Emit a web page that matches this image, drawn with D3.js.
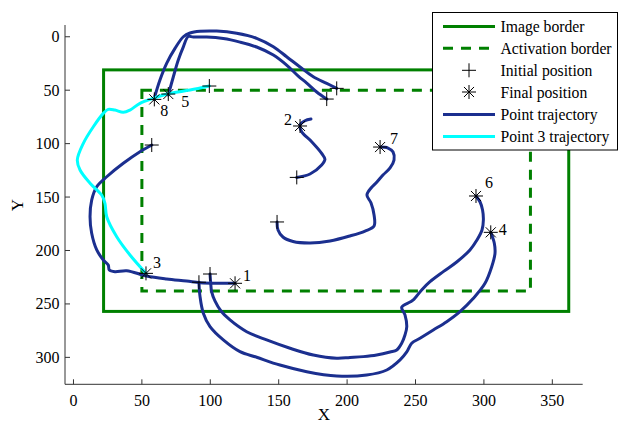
<!DOCTYPE html>
<html><head><meta charset="utf-8">
<script src="https://cdn.jsdelivr.net/npm/d3@7"></script>
<style>html,body{margin:0;padding:0;background:#fff;}text{font-family:"Liberation Serif","Times New Roman","DejaVu Serif",serif;}</style>
</head><body><svg id="c" width="618" height="424"></svg>
<script>
// ---------- data ----------
const xTicks = [0, 50, 100, 150, 200, 250, 300, 350];
const yTicks = [0, 50, 100, 150, 200, 250, 300];
const xDomain = [-6.2, 372.2];
const yDomain = [-11, 325.2];
const imageBorderX = [22, 362];
const imageBorderY = [31, 257];
const activationBorderX = [50, 334];
const activationBorderY = [50, 238];

const traj1 = [[57.2,101.3],[48.6,107.6],[36.4,118.4],[24.3,131.0],[17.0,140.3],[13.3,152.8],[12.1,168.4],[13.3,183.9],[17.0,199.5],[21.8,208.9],[25.4,213.6],[26.2,218.2],[30.3,219.8],[38.9,218.9],[53.5,223.9],[68.1,226.7],[82.7,228.6],[92.5,230.1],[104.7,230.7],[118.1,230.7]];
const traj2 = [[163.2,131.6],[172.9,128.4],[181.4,120.0],[183.8,114.7],[181.4,109.1],[174.1,98.2],[166.8,88.9],[165.6,82.6],[169.2,78.6],[173.6,77.0]];
const traj3 = [[99.3,46.1],[85.2,49.9],[70.5,52.9],[58.3,57.6],[48.6,62.3],[41.3,68.6],[36.4,70.7],[30.3,68.6],[25.4,67.9],[21.8,71.7],[14.5,84.2],[7.2,99.7],[2.8,115.3],[4.8,124.7],[12.1,137.1],[20.6,148.1],[23.0,155.8],[24.3,168.4],[31.6,187.1],[41.3,204.2],[53.0,221.3]];
const traj4 = [[91.7,229.7],[92.5,243.2],[94.9,258.7],[99.8,271.3],[109.5,283.7],[121.7,294.7],[133.9,299.9],[150.9,307.2],[170.5,313.4],[192.4,317.4],[214.3,316.5],[229.0,311.8],[238.7,302.4],[243.6,294.9],[247.2,286.8],[253.3,282.1],[263.0,274.4],[272.8,266.6],[282.5,257.2],[292.3,244.7],[300.8,230.7],[305.7,215.2],[308.1,202.6],[307.6,193.3],[305.0,183.0]];
const traj5 = [[185.1,58.3],[177.8,51.7],[170.5,43.3],[164.3,36.8],[155.8,26.5],[146.1,17.1],[133.9,9.6],[121.7,5.0],[109.5,1.7],[97.4,0.3],[87.6,0.3],[83.9,-0.2],[80.3,9.4],[76.6,21.8],[73.0,37.4],[69.3,54.5]];
const traj6 = [[99.8,222.0],[100.3,230.4],[101.0,238.8],[103.4,247.2],[107.8,256.6],[114.4,265.0],[126.6,276.0],[141.2,283.7],[158.3,291.5],[175.3,297.8],[192.4,300.8],[202.1,300.1],[211.8,299.3],[221.6,297.8],[231.4,295.0],[236.3,293.1],[239.9,286.8],[242.3,279.1],[243.6,271.3],[242.3,260.3],[239.9,253.1],[246.0,248.2],[248.4,246.3],[254.5,236.9],[260.6,229.2],[270.3,219.8],[280.1,210.8],[289.8,199.5],[294.9,190.2],[298.6,180.8],[299.6,171.5],[299.0,162.1],[297.2,154.6],[294.2,149.0]];
const traj7 = [[148.8,173.3],[149.5,180.8],[153.1,187.4],[160.5,191.6],[172.9,193.0],[187.5,191.1],[202.1,186.4],[213.1,181.8],[219.7,177.1],[219.7,166.8],[217.5,155.6],[214.5,148.1],[217.5,141.5],[221.1,136.9],[226.2,129.4],[231.4,122.8],[234.3,115.3],[233.6,107.9],[229.9,104.1],[224.1,103.2]];
const traj8 = [[192.4,48.3],[185.1,43.6],[175.3,37.4],[165.6,28.3],[155.8,18.7],[146.1,9.4],[133.9,1.5],[119.3,-3.2],[104.7,-5.3],[92.5,-5.1],[85.2,-3.5],[80.3,0],[74.2,10.9],[68.1,24.9],[63.2,40.5],[58.8,58.6]];

const pointIds = [1, 2, 3, 4, 5, 6, 7, 8];
const initialX = [57.2, 163.2, 99.3, 91.7, 185.1, 99.8, 148.8, 192.4];
const initialY = [101.3, 131.6, 46.1, 229.7, 58.3, 222.0, 173.3, 48.3];
const finalX = [118.1, 165.6, 53.0, 305.0, 69.3, 294.2, 224.1, 59.1];
const finalY = [230.7, 83.5, 221.4, 183.0, 53.6, 149.0, 103.2, 58.6];
const legendLabels = ["Image border", "Activation border", "Initial position", "Final position", "Point trajectory", "Point 3 trajectory"];

// ---------- layout / style ----------
const FONT = "Liberation Serif, Times New Roman, DejaVu Serif, serif";
const labelOffsets = [[8,-2],[-16,-1],[7,-5],[8,3],[13,13],[9,-8],[10,-3],[6,17]];
const navy = "#1b2f8f", green = "#008000", cyan = "#00ffff";

const svg = d3.select("#c");
const x = d3.scaleLinear().domain(xDomain).range([65, 582.7]);
const y = d3.scaleLinear().domain(yDomain).range([25, 384.3]);

// borders
svg.append("rect").attr("x", x(imageBorderX[0])).attr("y", y(imageBorderY[0]))
  .attr("width", x(imageBorderX[1]) - x(imageBorderX[0])).attr("height", y(imageBorderY[1]) - y(imageBorderY[0]))
  .attr("fill", "none").attr("stroke", green).attr("stroke-width", 3);
svg.append("rect").attr("x", x(activationBorderX[0])).attr("y", y(activationBorderY[0]))
  .attr("width", x(activationBorderX[1]) - x(activationBorderX[0])).attr("height", y(activationBorderY[1]) - y(activationBorderY[0]))
  .attr("fill", "none").attr("stroke", green).attr("stroke-width", 3).attr("stroke-dasharray", "10,8");

const line = d3.line().x(d => x(d[0])).y(d => y(d[1])).curve(d3.curveCatmullRom.alpha(0.5));
const trajs = [traj1, traj2, traj4, traj5, traj6, traj7, traj8];
svg.selectAll("path.traj").data(trajs).join("path").attr("class", "traj")
  .attr("d", line).attr("fill", "none").attr("stroke", navy).attr("stroke-width", 3)
  .attr("stroke-linejoin", "round").attr("stroke-linecap", "round");
svg.append("path").attr("d", line(traj3)).attr("fill", "none").attr("stroke", cyan)
  .attr("stroke-width", 3).attr("stroke-linejoin", "round").attr("stroke-linecap", "round");

// markers
function plus(g, cx, cy, r) {
  g.append("path").attr("d", `M${cx-r},${cy}H${cx+r}M${cx},${cy-r}V${cy+r}`)
    .attr("stroke", "#000").attr("stroke-width", 1).attr("fill", "none");
}
function star(g, cx, cy, r) {
  const d = r * 0.72;
  g.append("path").attr("d", `M${cx-r},${cy}H${cx+r}M${cx},${cy-r}V${cy+r}M${cx-d},${cy-d}L${cx+d},${cy+d}M${cx-d},${cy+d}L${cx+d},${cy-d}`)
    .attr("stroke", "#000").attr("stroke-width", 1).attr("fill", "none");
}
const mk = svg.append("g");
pointIds.forEach((id, i) => {
  plus(mk, x(initialX[i]), y(initialY[i]), 7);
  star(mk, x(finalX[i]), y(finalY[i]), 7);
  mk.append("text").attr("x", x(finalX[i]) + labelOffsets[i][0]).attr("y", y(finalY[i]) + labelOffsets[i][1])
    .attr("font-family", FONT).attr("font-size", 16).attr("fill", "#000").text(id);
});

// axes
const ax = svg.append("g");
ax.append("line").attr("x1", 65).attr("x2", 582.7).attr("y1", 384.3).attr("y2", 384.3).attr("stroke", "#333");
ax.append("line").attr("x1", 65).attr("x2", 65).attr("y1", 25).attr("y2", 384.3).attr("stroke", "#333");
xTicks.forEach(t => {
  ax.append("line").attr("x1", x(t)).attr("x2", x(t)).attr("y1", 384.3).attr("y2", 379.3).attr("stroke", "#333");
  ax.append("text").attr("x", x(t)).attr("y", 405.5).attr("text-anchor", "middle")
    .attr("font-family", FONT).attr("font-size", 16).text(t);
});
yTicks.forEach(t => {
  ax.append("line").attr("x1", 65).attr("x2", 70).attr("y1", y(t)).attr("y2", y(t)).attr("stroke", "#333");
  ax.append("text").attr("x", 59.5).attr("y", y(t) + 5.5).attr("text-anchor", "end")
    .attr("font-family", FONT).attr("font-size", 16).text(t);
});
svg.append("text").attr("x", 324).attr("y", 420).attr("text-anchor", "middle")
  .attr("font-family", FONT).attr("font-size", 17).text("X");
svg.append("text").attr("transform", "translate(23,205) rotate(-90)").attr("text-anchor", "middle")
  .attr("font-family", FONT).attr("font-size", 17).text("Y");

// legend
const lg = svg.append("g");
lg.append("rect").attr("x", 432.5).attr("y", 12.5).attr("width", 185).attr("height", 137.5)
  .attr("fill", "#fff").attr("stroke", "#000").attr("stroke-width", 1);
const rowY = [26.5, 48.3, 70.3, 92, 114.5, 136.5];
legendLabels.forEach((lab, i) => {
  const yy = rowY[i];
  if (i === 0) lg.append("line").attr("x1", 443).attr("x2", 495).attr("y1", yy).attr("y2", yy).attr("stroke", green).attr("stroke-width", 3);
  if (i === 1) lg.append("line").attr("x1", 443).attr("x2", 495).attr("y1", yy).attr("y2", yy).attr("stroke", green).attr("stroke-width", 3).attr("stroke-dasharray", "10,8");
  if (i === 2) plus(lg, 469, yy, 7);
  if (i === 3) star(lg, 469, yy, 7);
  if (i === 4) lg.append("line").attr("x1", 443).attr("x2", 495).attr("y1", yy).attr("y2", yy).attr("stroke", navy).attr("stroke-width", 3);
  if (i === 5) lg.append("line").attr("x1", 443).attr("x2", 495).attr("y1", yy).attr("y2", yy).attr("stroke", cyan).attr("stroke-width", 3);
  lg.append("text").attr("x", 500.5).attr("y", yy + 5.5).attr("font-family", FONT).attr("font-size", 15.7).text(lab);
});
</script></body></html>
